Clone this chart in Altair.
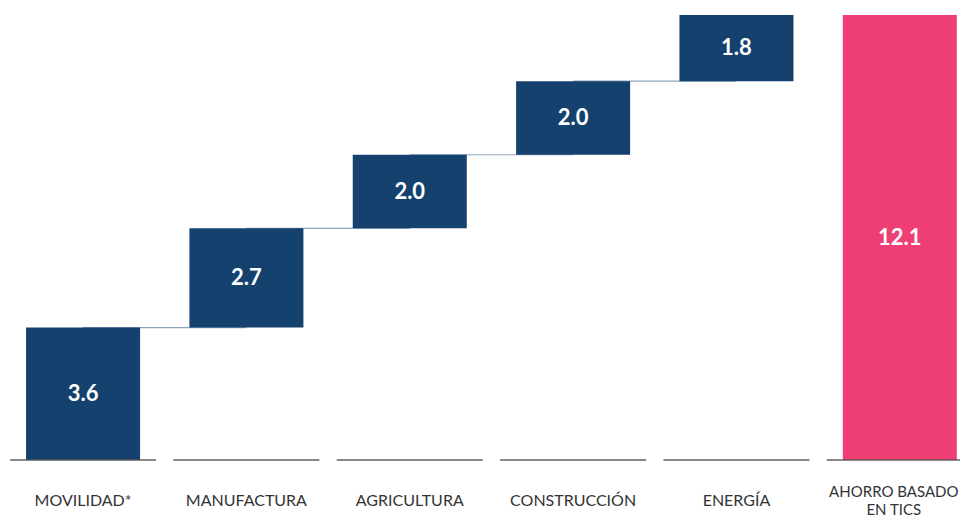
import altair as alt
import pandas as pd

categories = ["MOVILIDAD*", "MANUFACTURA", "AGRICULTURA", "CONSTRUCCIÓN", "ENERGÍA", "AHORRO BASADO|EN TICS"]
values = [3.6, 2.7, 2.0, 2.0, 1.8, 12.1]
kinds = ["step", "step", "step", "step", "step", "total"]
labels = ["3.6", "2.7", "2.0", "2.0", "1.8", "12.1"]

starts, ends = [], []
acc = 0.0
for v, k in zip(values, kinds):
    if k == "total":
        starts.append(0.0)
        ends.append(v)
    else:
        starts.append(acc)
        acc += v
        ends.append(acc)

df = pd.DataFrame({
    "cat": categories,
    "start": starts,
    "end": ends,
    "zero": [0.0] * len(categories),
    "mid": [(s + e) / 2 for s, e in zip(starts, ends)],
    "kind": kinds,
    "label": labels,
    "conn": [ends[i] if i < 4 else None for i in range(6)],
})

last_test = "datum.value == '" + categories[-1] + "'"

xscale = alt.Scale(domain=categories, paddingInner=0.302, paddingOuter=0.065, align=0.85)
yscale = alt.Scale(domain=[0, 12.1], nice=False, zero=True)

xaxis = alt.Axis(title=None, ticks=False, domain=False, labelAngle=0,
                 labelFontSize={"condition": {"test": last_test, "value": 15}, "value": 16},
                 labelColor="#333333", labelFont="Lato",
                 labelPadding={"condition": {"test": last_test, "value": 24}, "value": 32},
                 labelOffset={"condition": {"test": last_test, "value": -6}, "value": 0},
                 labelOverlap=False,
                 labelLineHeight=18,
                 labelExpr="split(datum.label, '|')")


def X():
    return alt.X("cat:N", scale=xscale, axis=xaxis)


def Y(field):
    return alt.Y(field, scale=yscale, axis=None)


base = alt.Chart(df)

baseline = base.mark_tick(size=146, thickness=2, color="#555555").encode(
    x=X(), y=Y("zero:Q"),
)

connectors = base.transform_filter("datum.conn != null").mark_tick(
    color="#5B7DA3", thickness=1.2, size=163.3, xOffset=81.65
).encode(
    x=X(), y=Y("conn:Q"),
)

bars = base.mark_bar().encode(
    x=X(),
    y=Y("start:Q"),
    y2="end:Q",
    color=alt.Color("kind:N", scale=alt.Scale(domain=["step", "total"],
                                              range=["#15416F", "#EF3E74"]), legend=None),
)

text = base.mark_text(color="white", fontSize=22, fontWeight="bold", font="Lato",
                      baseline="middle").encode(
    x=X(), y=Y("mid:Q"), text="label:N",
)

chart = alt.layer(connectors, bars, baseline, text).properties(
    width=952, height=445,
    autosize=alt.AutoSizeParams(type="none"),
    padding={"left": 0, "right": 0, "top": 7, "bottom": 60},
).configure_view(stroke=None)

chart.save("out.html", embed_options={"renderer": "svg", "actions": False})
